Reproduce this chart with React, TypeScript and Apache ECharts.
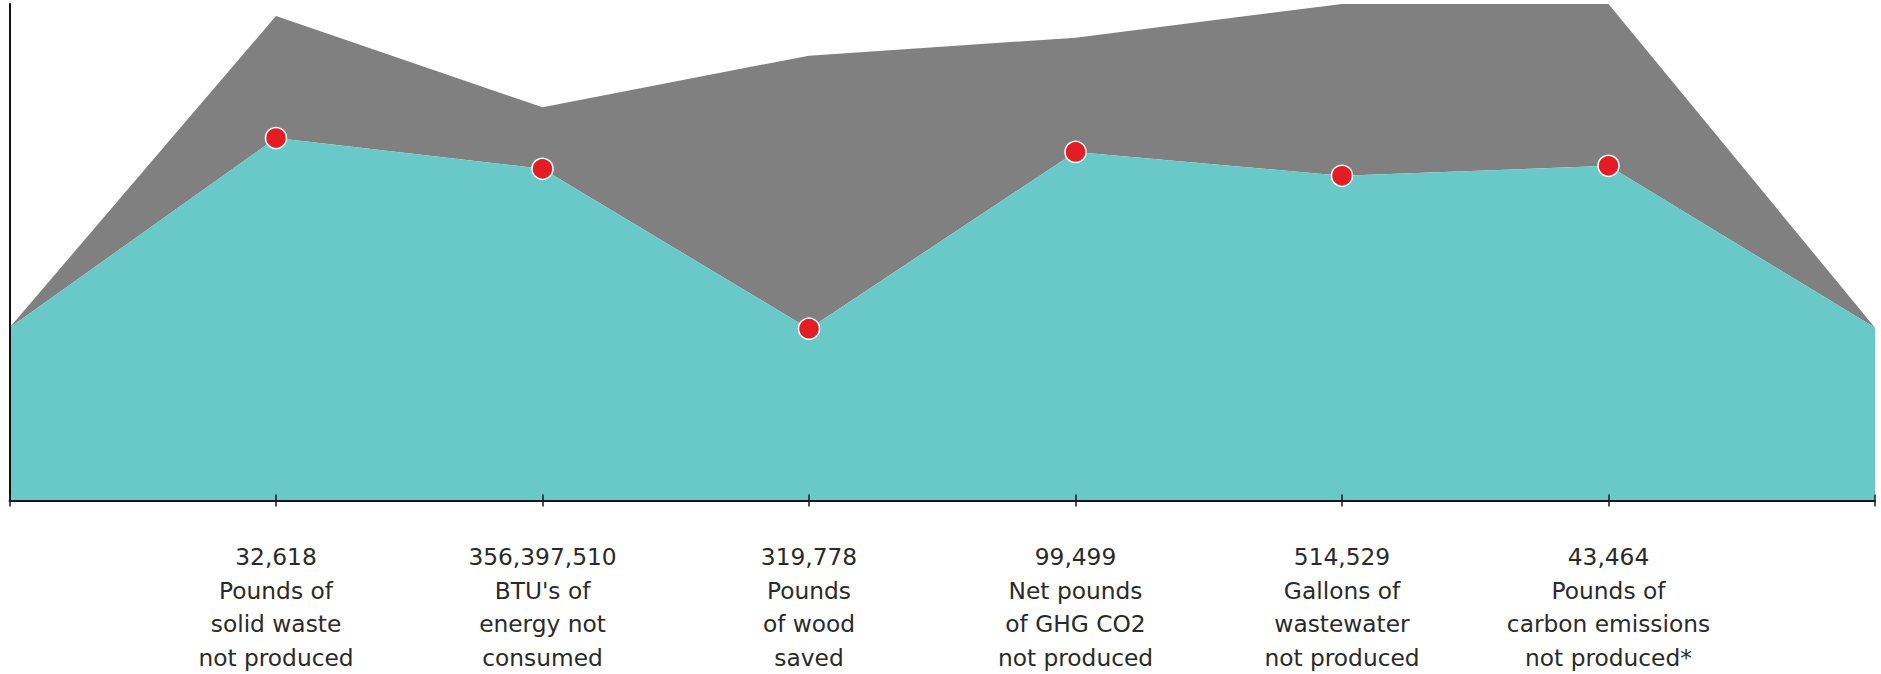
import React, { useEffect, useRef } from "react";
import * as echarts from "echarts";

const amounts = ["", "32,618", "356,397,510", "319,778", "99,499", "514,529", "43,464", ""];
const descriptions = [
  "",
  "Pounds of\nsolid waste\nnot produced",
  "BTU's of\nenergy not\nconsumed",
  "Pounds\nof wood\nsaved",
  "Net pounds\nof GHG CO2\nnot produced",
  "Gallons of\nwastewater\nnot produced",
  "Pounds of\ncarbon emissions\nnot produced*",
  "",
];
const categories = amounts.map((a, i) => (a ? a + "\n" + descriptions[i] : ""));
const tealValues = [34.8, 73.0, 66.8, 34.6, 70.2, 65.4, 67.4, 34.8];
const grayValues = [0, 24.6, 12.4, 55.0, 23.0, 34.6, 32.6, 0];
const markerShown = [false, true, true, true, true, true, true, false];

export default function App() {
  const ref = useRef<HTMLDivElement>(null);
  useEffect(() => {
    if (!ref.current) return;
    const chart = echarts.init(ref.current, undefined, { renderer: "svg" });
    chart.setOption({
      animation: false,
      backgroundColor: "#ffffff",
      grid: { left: 9.5, right: 6, top: 4, bottom: 170, containLabel: false },
      xAxis: [
        {
          type: "category",
          data: categories,
          boundaryGap: false,
          axisLine: { show: true, lineStyle: { color: "#1a1a1a", width: 2 } },
          axisTick: { show: true, length: 6, lineStyle: { color: "#1a1a1a", width: 1.5 } },
          axisLabel: {
            interval: 0,
            margin: 39.5,
            color: "#2a2a2a",
            fontFamily: "DejaVu Sans",
            fontSize: 23.3,
            lineHeight: 33.5,
            align: "center",
          },
          splitLine: { show: false },
          z: 10,
        },
        {
          type: "category",
          data: categories,
          boundaryGap: false,
          position: "bottom",
          axisLine: { show: false },
          axisTick: { show: true, inside: true, length: 6, lineStyle: { color: "#1a1a1a", width: 1.5 } },
          axisLabel: { show: false },
          splitLine: { show: false },
          z: 10,
        },
      ],
      yAxis: {
        type: "value",
        min: 0,
        max: 100,
        axisLine: { show: true, lineStyle: { color: "#111111", width: 2 } },
        axisTick: { show: false },
        axisLabel: { show: false },
        splitLine: { show: false },
        z: 10,
      },
      series: [
        {
          name: "teal",
          type: "line",
          stack: "total",
          z: 3,
          data: tealValues.map((v, i) => ({
            value: v,
            symbol: markerShown[i] ? "circle" : "none",
          })),
          symbolSize: 21,
          showSymbol: true,
          itemStyle: { color: "#e41c24", borderColor: "#ffffff", borderWidth: 1.5 },
          lineStyle: { width: 0, color: "#69c8c8" },
          areaStyle: { color: "#69c8c8", opacity: 1 },
        },
        {
          name: "gray",
          type: "line",
          stack: "total",
          z: 2,
          data: grayValues,
          symbol: "none",
          lineStyle: { width: 0, color: "#808080" },
          areaStyle: { color: "#808080", opacity: 1 },
        },
      ],
    });
    return () => chart.dispose();
  }, []);
  return (
    <div
      ref={ref}
      style={{ position: "fixed", left: 0, top: 0, width: 1881, height: 674, background: "#fff" }}
    />
  );
}
